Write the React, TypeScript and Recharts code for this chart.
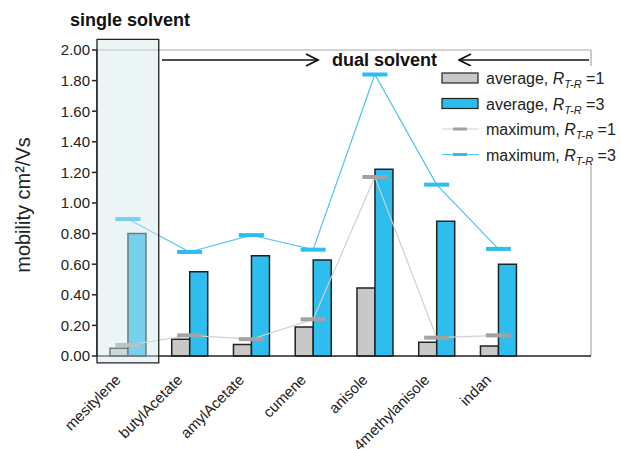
import React from "react"
import {
  ComposedChart,
  Bar,
  Line,
  XAxis,
  YAxis,
  ReferenceArea,
  ReferenceLine,
  Customized,
} from "recharts"

const solvents = ["mesitylene", "butylAcetate", "amylAcetate", "cumene", "anisole", "4methylanisole", "indan", ""]
const avgR1 = [0.05, 0.11, 0.075, 0.19, 0.445, 0.09, 0.065, null]
const avgR3 = [0.8, 0.55, 0.655, 0.627, 1.22, 0.88, 0.6, null]
const maxR1 = [0.072, 0.135, 0.11, 0.24, 1.17, 0.12, 0.135, null]
const maxR3 = [0.895, 0.68, 0.79, 0.695, 1.84, 1.12, 0.7, null]
const yTicks = [0, 0.2, 0.4, 0.6, 0.8, 1.0, 1.2, 1.4, 1.6, 1.8, 2.0]

const data = solvents.map((name, i) => ({
  name,
  avgR1: avgR1[i],
  avgR3: avgR3[i],
  maxR1: maxR1[i],
  maxR3: maxR3[i],
}))

const FONT = "Liberation Sans, Arial, sans-serif"
const BLUE = "#2dbdee"
const BLUE_LINE = "#4cc4ee"
const GRAY = "#c8c8c8"
const GRAY_DASH = "#a3a3a3"
const GRAY_LINE = "#d0d0d0"
const FRAME = "#a8a8a8"

// short thick horizontal bar used as the point marker of the "maximum" series
function dashDot(color: string) {
  return (props: any) => {
    const { cx, cy, index } = props
    if (cx == null || cy == null || Number.isNaN(cy)) return <g key={index} />
    return <rect key={index} x={cx - 12.5} y={cy - 2} width={25} height={4} fill={color} />
  }
}

function XTick({ x, y, payload }: any) {
  const tx = x - 9
  const ty = y + 14
  return (
    <text
      x={tx}
      y={ty}
      transform={`rotate(-45 ${tx} ${ty})`}
      textAnchor="end"
      dominantBaseline="middle"
      fontSize={15}
      fontFamily={FONT}
      fill="#222"
    >
      {payload.value}
    </text>
  )
}

function Annotations() {
  return (
    <g fontFamily={FONT}>
      <defs>
        <marker id="head" markerWidth="10" markerHeight="10" refX="9" refY="5" orient="auto">
          <path d="M1,1 L9,5 L1,9" fill="none" stroke="#111" strokeWidth={1.2} />
        </marker>
      </defs>
      {/* right edge of the plot frame */}
      <line x1={591} y1={50} x2={591} y2={356} stroke={FRAME} strokeWidth={1.2} />
      <text x={70} y={26} fontSize={18} fontWeight="bold" fill="#111">
        single solvent
      </text>
      <line x1={162} y1={60} x2={318} y2={60} stroke="#111" strokeWidth={1.5} markerEnd="url(#head)" />
      <text x={332} y={66} fontSize={18} fontWeight="bold" fill="#111">
        dual solvent
      </text>
      <line x1={589} y1={60} x2={459} y2={60} stroke="#111" strokeWidth={1.5} markerEnd="url(#head)" />
      <text
        x={30}
        y={205}
        transform="rotate(-90 30 205)"
        textAnchor="middle"
        fontSize={20}
        fill="#222"
      >
        mobility cm²/Vs
      </text>
    </g>
  )
}

function RLabel({ n }: { n: number }) {
  return (
    <>
      <tspan fontStyle="italic">R</tspan>
      <tspan fontStyle="italic" fontSize={11} dy={4}>T-R</tspan>
      <tspan dy={-4}> ={n}</tspan>
    </>
  )
}

function LegendBox() {
  const rows = [
    { kind: "bar", color: GRAY, label: "average, ", n: 1 },
    { kind: "bar", color: BLUE, label: "average, ", n: 3 },
    { kind: "line", color: GRAY_LINE, dash: GRAY_DASH, label: "maximum, ", n: 1 },
    { kind: "line", color: BLUE_LINE, dash: BLUE, label: "maximum, ", n: 3 },
  ]
  return (
    <g fontFamily={FONT}>
      <rect x={440} y={66} width={181} height={98} fill="#fff" />
      {rows.map((r, i) => {
        const cy = 78 + i * 25.5
        return (
          <g key={i}>
            {r.kind === "bar" ? (
              <rect x={442} y={cy - 5} width={36} height={10} fill={r.color} stroke="#222" strokeWidth={1.2} />
            ) : (
              <>
                <line x1={442} y1={cy} x2={479} y2={cy} stroke={r.color} strokeWidth={1} />
                <rect x={453} y={cy - 1.5} width={14} height={3} fill={r.dash} />
              </>
            )}
            <text x={486} y={cy + 6} fontSize={16} fill="#222">
              {r.label}
              <RLabel n={r.n} />
            </text>
          </g>
        )
      })}
    </g>
  )
}

export default function App() {
  return (
    <div style={{ position: "absolute", left: 0, top: 0, background: "#fff" }}>
      <ComposedChart
        width={621}
        height={449}
        data={data}
        margin={{ top: 50, right: 30, left: 0, bottom: 0 }}
        barCategoryGap="21%"
        barGap={0}
      >
        <XAxis
          dataKey="name"
          height={93}
          interval={0}
          tick={<XTick />}
          tickLine={false}
          axisLine={{ stroke: "#222", strokeWidth: 1.5 }}
        />
        <YAxis
          width={97}
          domain={[0, 2]}
          ticks={yTicks}
          tickFormatter={(v: number) => v.toFixed(2)}
          tick={{ fontSize: 15, fill: "#222", fontFamily: FONT }}
          tickSize={5}
          tickLine={{ stroke: "#222", strokeWidth: 1.5 }}
          axisLine={{ stroke: "#222", strokeWidth: 1.5 }}
          interval={0}
        />
        <ReferenceLine y={2} stroke={FRAME} strokeWidth={1.2} />
        <Bar dataKey="avgR1" fill={GRAY} stroke="#222" strokeWidth={1.5} isAnimationActive={false} />
        <Bar dataKey="avgR3" fill={BLUE} stroke="#222" strokeWidth={1.5} isAnimationActive={false} />
        <Line
          dataKey="maxR1"
          stroke={GRAY_LINE}
          strokeWidth={1.2}
          dot={dashDot(GRAY_DASH)}
          activeDot={false}
          isAnimationActive={false}
        />
        <Line
          dataKey="maxR3"
          stroke={BLUE_LINE}
          strokeWidth={1.2}
          dot={dashDot(BLUE)}
          activeDot={false}
          isAnimationActive={false}
        />
        <ReferenceArea
          x1="mesitylene"
          x2="mesitylene"
          y1={-0.045}
          y2={2.07}
          ifOverflow="visible"
          fill="#d3e9ea"
          fillOpacity={0.45}
          stroke="#222"
          strokeWidth={1.3}
          zIndex={1000}
        />
        <Customized component={Annotations} />
        <Customized component={LegendBox} />
      </ComposedChart>
    </div>
  )
}
